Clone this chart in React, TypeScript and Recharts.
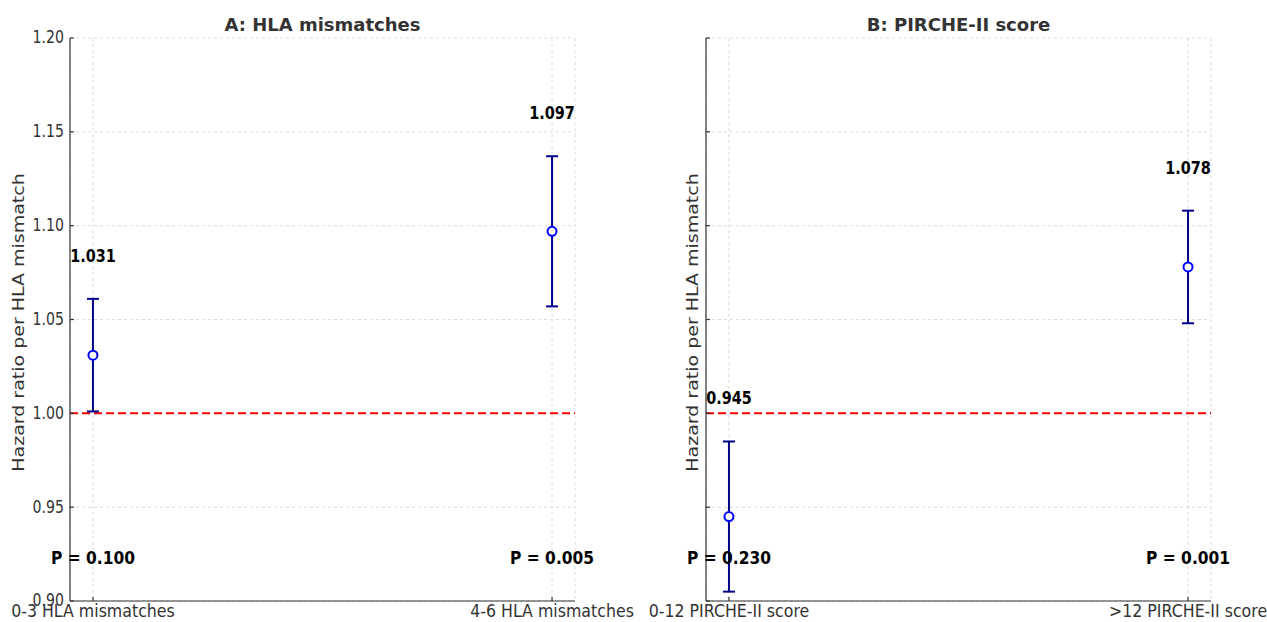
import React from 'react';
import { ComposedChart, Scatter, ErrorBar, XAxis, YAxis, CartesianGrid, ReferenceLine } from 'recharts';

// Panel A: HLA mismatches
const hlaCategories = ['0-3 HLA mismatches', '4-6 HLA mismatches'];
const hlaHR = [1.031, 1.097];
const hlaLower = [1.001, 1.057];
const hlaUpper = [1.061, 1.137];
const hlaP = ['P = 0.100', 'P = 0.005'];

// Panel B: PIRCHE-II score
const pircheCategories = ['0-12 PIRCHE-II score', '>12 PIRCHE-II score'];
const pircheHR = [0.945, 1.078];
const pircheLower = [0.905, 1.048];
const pircheUpper = [0.985, 1.108];
const pircheP = ['P = 0.230', 'P = 0.001'];

const yTicks = [0.9, 0.95, 1.0, 1.05, 1.1, 1.15, 1.2];

const LABEL_GAP = 0.023;
const P_LABEL_Y = 0.923;
const FONT = '"DejaVu Sans", sans-serif';

const buildRows = (hr: number[], lo: number[], hi: number[], p: string[]) =>
  hr.map((v, i) => ({
    x: i,
    hr: v,
    err: [v - lo[i], hi[i] - v],
    labelY: hi[i] + LABEL_GAP,
    label: v.toFixed(3),
    pY: P_LABEL_Y,
    p: p[i],
  }));

const Txt = ({ x, y, size, sx = 1, bold = false, anchor = 'middle', color = '#000', vertical = false, children }: any) => {
  const t = vertical
    ? `translate(${x} ${y}) rotate(-90) scale(1 ${sx})`
    : `translate(${x} ${y}) scale(${sx} 1)`;
  return (
    <text
      transform={t}
      x={0}
      y={0}
      textAnchor={anchor}
      dominantBaseline="central"
      fontFamily={FONT}
      fontSize={size}
      fontWeight={bold ? 'bold' : 'normal'}
      fill={color}
    >
      {children}
    </text>
  );
};

const Marker = (props: any) => (
  <circle cx={props.cx} cy={props.cy} r={4.5} fill="#ffffff" stroke="#0000ff" strokeWidth={2} />
);

const HrLabel = (props: any) => (
  <Txt x={props.cx} y={props.cy} size={18} sx={0.8} bold>
    {props.payload.label}
  </Txt>
);

const PLabel = (props: any) => (
  <Txt x={props.cx} y={props.cy} size={18} sx={0.86} bold>
    {props.payload.p}
  </Txt>
);

const axisStyle = { stroke: '#333333', strokeWidth: 1.2 };

const Panel = ({ rows, categories, showYTicks, axisWidth, labelX, width, rightMargin }: any) => (
  <ComposedChart
    width={width}
    height={622}
    data={rows}
    margin={{ top: 38, right: rightMargin, bottom: 0, left: 0 }}
  >
    <CartesianGrid stroke="#d4d4d4" strokeDasharray="3 3" strokeWidth={0.8} />
    <XAxis
      type="number"
      dataKey="x"
      domain={[-0.05, 1.05]}
      ticks={[0, 1]}
      height={21}
      tickSize={-4}
      tickMargin={14}
      axisLine={axisStyle}
      tickLine={axisStyle}
      tick={(p: any) => (
        <Txt x={p.x} y={p.y} size={17} sx={0.93} color="#333333">
          {categories[p.payload.value]}
        </Txt>
      )}
    />
    <YAxis
      type="number"
      domain={[0.9, 1.2]}
      ticks={yTicks}
      allowDataOverflow
      width={axisWidth}
      tickSize={-4}
      tickMargin={10}
      axisLine={axisStyle}
      tickLine={axisStyle}
      tick={(p: any) =>
        showYTicks ? (
          <Txt x={p.x} y={p.y} size={17} sx={0.83} anchor="end" color="#333333">
            {Number(p.payload.value).toFixed(2)}
          </Txt>
        ) : (
          <g />
        )
      }
      label={{
        content: (lp: any) => {
          const vb = lp.viewBox || { x: 0, y: 38, height: 563 };
          return (
            <Txt x={vb.x + labelX} y={vb.y + vb.height / 2 + 3} size={19} sx={0.79} vertical color="#333333">
              Hazard ratio per HLA mismatch
            </Txt>
          );
        },
      }}
    />
    <ReferenceLine y={1} stroke="#ff0000" strokeWidth={2} strokeDasharray="8 4" />
    <Scatter dataKey="hr" shape={Marker} isAnimationActive={false}>
      <ErrorBar dataKey="err" direction="y" width={6} stroke="#00008b" strokeWidth={2} isAnimationActive={false} />
    </Scatter>
    <Scatter dataKey="labelY" shape={HrLabel} isAnimationActive={false} />
    <Scatter dataKey="pY" shape={PLabel} isAnimationActive={false} />
  </ComposedChart>
);

const titleStyle: React.CSSProperties = {
  position: 'absolute',
  top: 16,
  width: 505,
  textAlign: 'center',
  fontFamily: FONT,
  fontWeight: 'bold',
  fontSize: 18,
  lineHeight: '18px',
  color: '#333333',
};

export default function App() {
  const hlaRows = buildRows(hlaHR, hlaLower, hlaUpper, hlaP);
  const pircheRows = buildRows(pircheHR, pircheLower, pircheUpper, pircheP);
  return (
    <div style={{ position: 'absolute', left: 0, top: 0, width: 1267, height: 622, background: '#ffffff' }}>
      <div style={{ position: 'absolute', left: 0, top: 0 }}>
        <Panel rows={hlaRows} categories={hlaCategories} showYTicks axisWidth={70} labelX={19} width={640} rightMargin={65} />
      </div>
      <div style={{ position: 'absolute', left: 640, top: 0 }}>
        <Panel rows={pircheRows} categories={pircheCategories} showYTicks={false} axisWidth={66} labelX={53} width={627} rightMargin={56} />
      </div>
      <div style={{ ...titleStyle, left: 70 }}>A: HLA mismatches</div>
      <div style={{ ...titleStyle, left: 706 }}>B: PIRCHE-II score</div>
    </div>
  );
}
